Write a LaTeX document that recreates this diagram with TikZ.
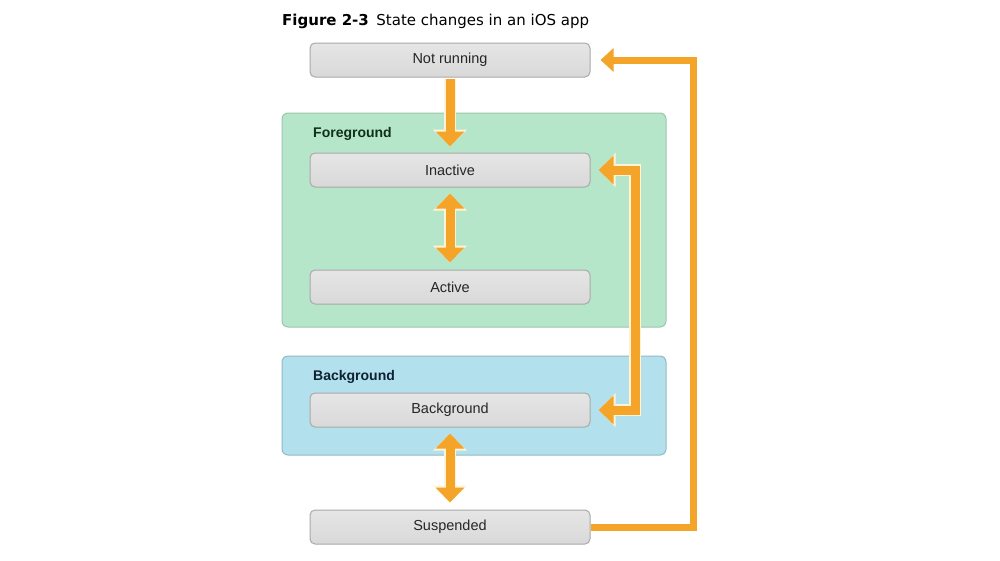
\documentclass[tikz,border=0pt]{standalone}
\usepackage{fontspec}
\setmainfont{Liberation Sans}
\newfontfamily\titlefont{DejaVu Sans}
\usetikzlibrary{arrows.meta}
\definecolor{arr}{HTML}{F5A42A}
\definecolor{arrout}{HTML}{FFF4D6}
\definecolor{fgfill}{HTML}{B6E6CA}
\definecolor{fgline}{HTML}{9CC6AA}
\definecolor{bgfill}{HTML}{B2E0EC}
\definecolor{bgline}{HTML}{92BAC6}
\definecolor{boxline}{HTML}{A9A9A9}
\definecolor{fgtext}{HTML}{10301A}
\definecolor{bgtext}{HTML}{0E2232}
\tikzset{
  statebox/.style={draw=boxline, line width=1pt, rounded corners=5pt,
    top color=white!90!black, bottom color=white!85!black,
    minimum width=280pt, minimum height=34pt, inner sep=0pt,
    font=\fontsize{14.5}{16}\selectfont, text=black!85},
  panel/.style={line width=1pt, rounded corners=6pt},
  panellabel/.style={font=\fontsize{14}{16}\selectfont\bfseries, anchor=base west, inner sep=0pt},
  bigarrow/.style={arr, line width=9pt,
    -{Triangle[length=15pt, width=28pt]},
    preaction={draw=arrout, line width=12pt, -{Triangle[length=17pt, width=33pt]}}},
  bigdarrow/.style={arr, line width=9pt,
    {Triangle[length=15pt, width=28pt]}-{Triangle[length=15pt, width=28pt]},
    preaction={draw=arrout, line width=12pt, {Triangle[length=17pt, width=33pt]}-{Triangle[length=17pt, width=33pt]}}},
  outarrow/.style={arr, line width=7pt, -{Triangle[length=13pt, width=23pt]}},
}
\begin{document}
\begin{tikzpicture}[x=1pt, y=-1pt]
\path[use as bounding box, fill=white] (0,0) rectangle (1000,560);
% title
\node[anchor=base west, inner sep=0pt, font=\titlefont\fontsize{15}{17}\selectfont] (title) at (282,25)
  {\textbf{Figure 2-3}\hspace{0.5em}State changes in an iOS app};
% panels
\draw[panel, fill=fgfill, draw=fgline] (282,113) rectangle (666,327);
\node[panellabel, text=fgtext] (fglabel) at (313,137) {Foreground};
\draw[panel, fill=bgfill, draw=bgline] (282,356) rectangle (666,455);
\node[panellabel, text=bgtext] (bglabel) at (313,380) {Background};
% state boxes
\node[statebox] (nr) at (450,60) {Not running};
\node[statebox] (inactive) at (450,170) {Inactive};
\node[statebox] (active) at (450,287) {Active};
\node[statebox] (bgbox) at (450,410) {Background};
\node[statebox] (susp) at (450,527) {Suspended};
% arrows
\draw[bigarrow, shorten <=1pt, shorten >=6pt] (nr.south) -- (inactive.north);
\draw[bigdarrow, shorten <=6pt, shorten >=7pt] (inactive.south) -- (active.north);
\draw[bigdarrow, shorten <=6pt, shorten >=7pt] (bgbox.south) -- (susp.north);
\coordinate (loopA) at (635,170);
\coordinate (loopB) at (635,410);
\draw[bigdarrow, shorten <=8pt, shorten >=8pt] (inactive.east) -- (loopA) -- (loopB) -- (bgbox.east);
\coordinate (outA) at (693,527);
\coordinate (outB) at (693,60);
\draw[outarrow, shorten >=10pt] (susp.east) -- (outA) -- (outB) -- (nr.east);
\end{tikzpicture}
\end{document}
